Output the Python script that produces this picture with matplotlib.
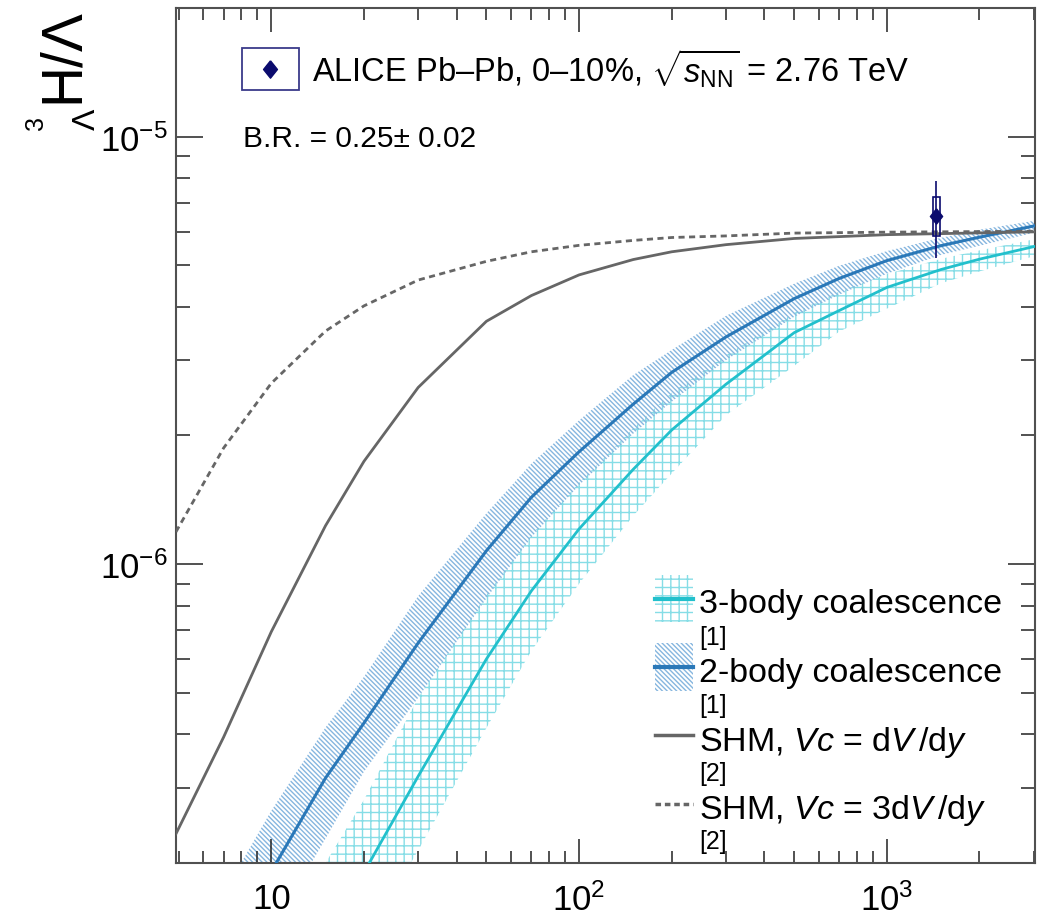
import matplotlib
matplotlib.use("Agg")
import matplotlib.pyplot as plt
from matplotlib.patches import Rectangle

plt.rcParams["font.family"] = ["Liberation Sans", "DejaVu Sans"]
plt.rcParams["mathtext.fontset"] = "custom"
plt.rcParams["mathtext.rm"] = "Liberation Sans"
plt.rcParams["mathtext.it"] = "Liberation Sans:italic"
plt.rcParams["mathtext.bf"] = "Liberation Sans:bold"
plt.rcParams["hatch.linewidth"] = 1.0

# --- values ---
shm_x = [4.9, 7, 10, 15, 20, 30, 50, 70, 100, 150, 200, 300, 500, 1000, 3030]
shm_vc1 = [2.34e-7, 3.94e-7, 6.95e-7, 1.23e-6, 1.74e-6, 2.59e-6, 3.70e-6, 4.25e-6,
           4.75e-6, 5.16e-6, 5.38e-6, 5.59e-6, 5.78e-6, 5.90e-6, 5.99e-6]
shm_vc3 = [1.19e-6, 1.87e-6, 2.65e-6, 3.51e-6, 4.02e-6, 4.62e-6, 5.11e-6, 5.38e-6,
           5.57e-6, 5.72e-6, 5.81e-6, 5.86e-6, 5.95e-6, 5.98e-6, 6.01e-6]

coal_x = [7, 10, 15, 20, 30, 50, 70, 100, 150, 200, 300, 500, 700, 1000, 1500, 2000, 3030]
two_body = [1.23e-7, 1.91e-7, 3.16e-7, 4.25e-7, 6.54e-7, 1.075e-6, 1.434e-6, 1.832e-6,
            2.368e-6, 2.81e-6, 3.40e-6, 4.18e-6, 4.66e-6, 5.13e-6, 5.56e-6, 5.82e-6, 6.19e-6]
two_body_lo = [8.9e-8, 1.38e-7, 2.28e-7, 3.27e-7, 4.87e-7, 8.32e-7, 1.156e-6, 1.53e-6,
               2.02e-6, 2.40e-6, 3.00e-6, 3.79e-6, 4.27e-6, 4.78e-6, 5.29e-6, 5.56e-6, 5.97e-6]
two_body_hi = [1.70e-7, 2.65e-7, 4.15e-7, 5.45e-7, 8.42e-7, 1.315e-6, 1.719e-6, 2.17e-6,
               2.77e-6, 3.17e-6, 3.81e-6, 4.53e-6, 4.99e-6, 5.40e-6, 5.80e-6, 6.06e-6, 6.36e-6]
three_body = [5.0e-8, 7.8e-8, 1.33e-7, 1.90e-7, 3.19e-7, 6.0e-7, 8.66e-7, 1.209e-6,
              1.667e-6, 2.06e-6, 2.635e-6, 3.48e-6, 3.92e-6, 4.44e-6, 4.89e-6, 5.17e-6, 5.54e-6]
three_body_lo = [4.0e-8, 6.0e-8, 8.7e-8, 1.3e-7, 2.14e-7, 4.14e-7, 6.27e-7, 9.0e-7,
                 1.298e-6, 1.63e-6, 2.23e-6, 2.91e-6, 3.50e-6, 3.96e-6, 4.54e-6, 4.84e-6, 5.26e-6]
three_body_hi = [8.0e-8, 1.17e-7, 2.0e-7, 2.81e-7, 4.87e-7, 8.48e-7, 1.171e-6, 1.55e-6,
                 2.08e-6, 2.52e-6, 3.08e-6, 3.87e-6, 4.34e-6, 4.77e-6, 5.18e-6, 5.42e-6, 5.76e-6]

alice_x = 1450
alice_y = 6.54e-6
alice_stat = 1.34e-6
alice_sys = 0.68e-6

xtick_vals = [10, 100, 1000]
xtick_labels = ["10", "$10^{2}$", "$10^{3}$"]
ytick_vals = [1e-6, 1e-5]
ytick_labels = ["$10^{-6}$", "$10^{-5}$"]

legend_labels = ["3-body coalescence", "2-body coalescence",
                 "SHM, $Vc$ = d$V\\,$/d$y$", "SHM, $Vc$ = 3d$V\\,$/d$y$"]
legend_refs = ["[1]", "[1]", "[2]", "[2]"]

# --- styles ---
NAVY = "#0b0b6e"
GREY = "#666666"
BLUE = "#2a78b8"
BLUE_HATCH = "#86b6df"
CYAN = "#22c0cc"
CYAN_HATCH = "#86dde6"
HATCH_2B = "\\" * 7
HATCH_3B = "++"


def diamond():
    return [(0, 1), (0.8, 0), (0, -1), (-0.8, 0), (0, 1)]


fig = plt.figure(figsize=(10.53, 9.2), dpi=100)
ax = fig.add_axes([0.1671, 0.0609, 0.8158, 0.9293])
ax.set_xscale("log")
ax.set_yscale("log")
ax.set_xlim(4.9, 3030)
ax.set_ylim(2e-7, 2e-5)

# bands
ax.fill_between(coal_x, three_body_lo, three_body_hi, facecolor="none",
                edgecolor=CYAN_HATCH, hatch=HATCH_3B, linewidth=0, zorder=1)
ax.fill_between(coal_x, two_body_lo, two_body_hi, facecolor="none",
                edgecolor=BLUE_HATCH, hatch=HATCH_2B, linewidth=0, zorder=1)

ax.plot(coal_x, three_body, color=CYAN, lw=2.0, zorder=3)
ax.plot(coal_x, two_body, color=BLUE, lw=2.2, zorder=3)
ax.plot(shm_x, shm_vc1, color=GREY, lw=2.0, zorder=3)
ax.plot(shm_x, shm_vc3, color=GREY, lw=2.0, dashes=(2.2, 1.6), zorder=3)

# data point: stat error bar + sys box
ax.errorbar([alice_x], [alice_y], yerr=[alice_stat], fmt="none", ecolor=NAVY,
            elinewidth=1.2, capsize=0, zorder=5)
half = 10 ** 0.0115
ax.add_patch(Rectangle((alice_x / half, alice_y - alice_sys), alice_x * half - alice_x / half,
                       2 * alice_sys, fill=False, edgecolor=NAVY, lw=1.2, zorder=5))
ax.plot([alice_x], [alice_y], marker=diamond(), ms=11, color=NAVY, ls="none", zorder=6)

# axes cosmetics (ROOT-like inward ticks on all sides)
for s in ax.spines.values():
    s.set_color("#505050")
    s.set_linewidth(1.5)
ax.tick_params(which="both", direction="in", top=True, right=True, width=1.1,
               color="#222222", labelsize=25)
ax.tick_params(axis="x", which="major", length=17, pad=14)
ax.tick_params(axis="x", which="minor", length=8.5)
ax.tick_params(axis="y", which="major", length=19.5, pad=6)
ax.tick_params(axis="y", which="minor", length=10)
ax.set_xticks(xtick_vals, labels=xtick_labels)
ax.set_yticks(ytick_vals, labels=ytick_labels)
ax.xaxis.set_minor_formatter(plt.NullFormatter())
ax.yaxis.set_minor_formatter(plt.NullFormatter())

# y-axis title built from pieces (small pre-scripts like ROOT)
fig.text(78 / 1053, 1 - 8 / 920, "H/\u039b", rotation=90, rotation_mode="anchor",
         ha="right", va="baseline", fontsize=41)
fig.text(43 / 1053, 1 - 130 / 920, "3", rotation=90, rotation_mode="anchor",
         ha="left", va="baseline", fontsize=18)
fig.text(95 / 1053, 1 - 130 / 920, "\u039b", rotation=90, rotation_mode="anchor",
         ha="left", va="baseline", fontsize=23)

# top-left data legend
ax.add_patch(Rectangle((0.0768, 0.9041), 0.0664, 0.0491, transform=ax.transAxes,
                       fill=False, edgecolor="#3a3a8a", lw=1.3, clip_on=False))
ax.plot([0.110], [0.9287], transform=ax.transAxes, marker=diamond(), ms=12.5,
        color=NAVY, ls="none", clip_on=False)
ax.text(0.1583, 0.9146, "ALICE Pb\u2013Pb, 0\u201310%, $\\sqrt{s_{\\mathrm{NN}}}$ = 2.76 TeV",
        transform=ax.transAxes, fontsize=23.5, va="baseline", ha="left")
ax.text(0.078, 0.8386, "B.R. = 0.25\u00b1 0.02", transform=ax.transAxes,
        fontsize=21.5, va="baseline", ha="left")

# model legend, lower right
px0, pw = 0.5576, 0.0439
line_y = [0.3088, 0.2292, 0.1497, 0.0690]
text_y = [0.2936, 0.2132, 0.1325, 0.0526]
ref_y = [0.2565, 0.1765, 0.0965, 0.0170]
ax.add_patch(Rectangle((px0, 0.2819), pw, 0.0549, transform=ax.transAxes, facecolor="none",
                       edgecolor=CYAN_HATCH, hatch=HATCH_3B, lw=0))
ax.add_patch(Rectangle((px0, 0.2012), pw, 0.0561, transform=ax.transAxes, facecolor="none",
                       edgecolor=BLUE_HATCH, hatch=HATCH_2B, lw=0))
styles = [dict(color=CYAN, lw=3.0), dict(color=BLUE, lw=3.0),
          dict(color=GREY, lw=2.5), dict(color=GREY, lw=2.5, dashes=(1.6, 1.1))]
for ly, ty, ry, lab, ref, st in zip(line_y, text_y, ref_y, legend_labels, legend_refs, styles):
    ax.plot([px0, px0 + pw], [ly, ly], transform=ax.transAxes, clip_on=False, **st)
    ax.text(0.6089, ty, lab, transform=ax.transAxes, fontsize=24.5, va="baseline")
    ax.text(0.6089, ry, ref, transform=ax.transAxes, fontsize=18, va="baseline")

fig.savefig("out.png", dpi=100)
